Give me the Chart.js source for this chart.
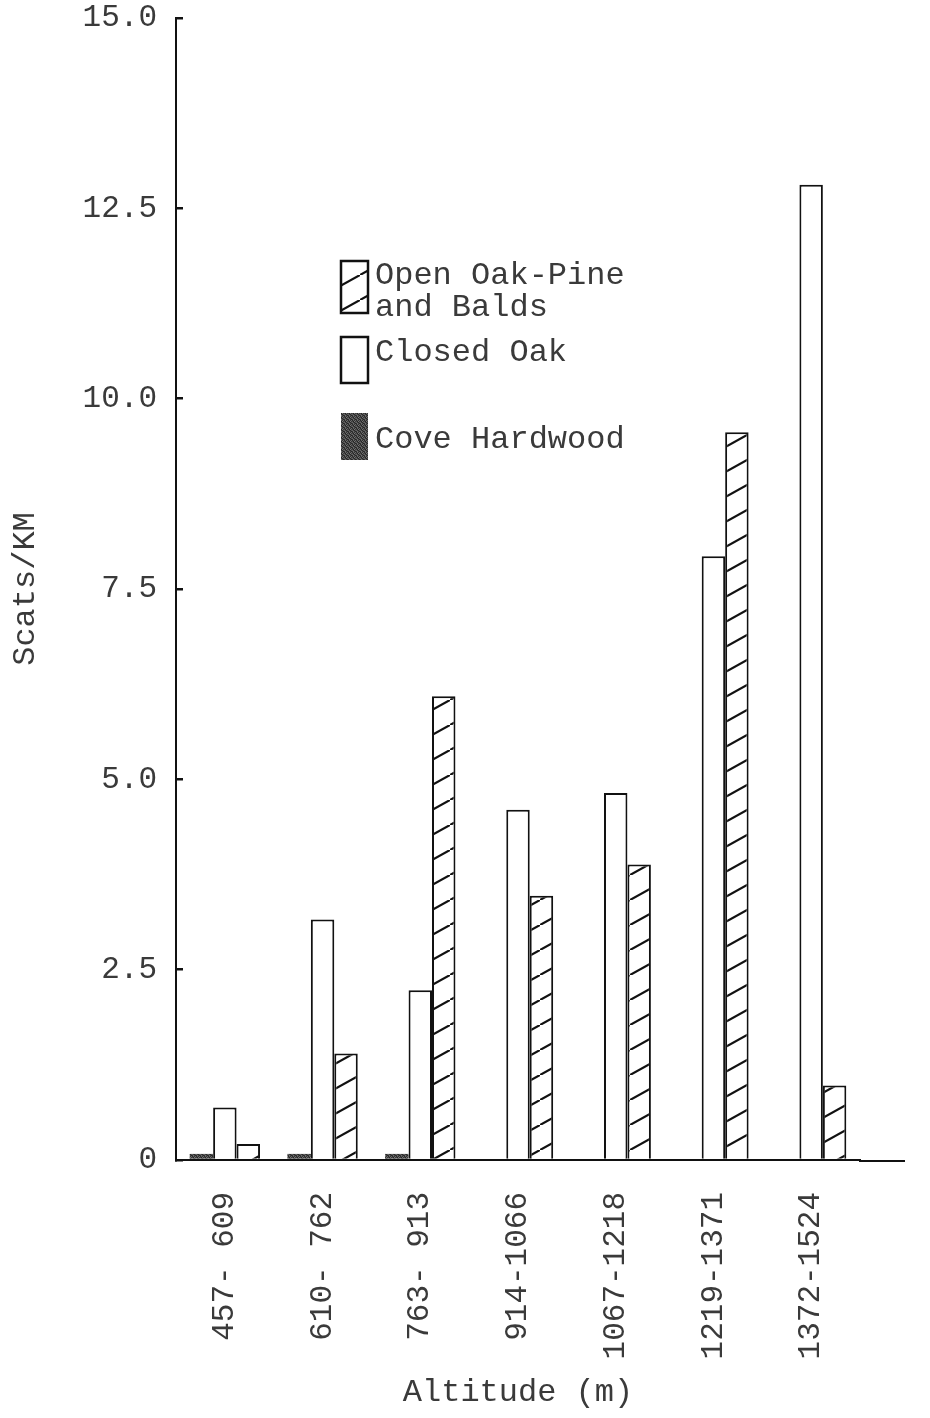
<!DOCTYPE html>
<html><head><meta charset="utf-8">
<script src="https://cdn.jsdelivr.net/npm/chart.js@4.4.0/dist/chart.umd.min.js"></script>
<style>html,body{margin:0;padding:0;background:#fff;}canvas{display:block;}</style>
</head><body>
<canvas id="c" width="930" height="1418"></canvas>
<script>
// ---- data ----
const categories = ['457- 609','610- 762','763- 913','914-1066','1067-1218','1219-1371','1372-1524'];
const coveHardwood = [0.08, 0.08, 0.08, 0, 0, 0, 0];
const closedOak    = [0.69, 3.16, 2.23, 4.60, 4.82, 7.93, 12.81];
const openOakPine  = [0.21, 1.40, 6.09, 3.47, 3.88, 9.56, 0.98];
const seriesNames  = ['Cove Hardwood', 'Closed Oak', 'Open Oak-Pine and Balds'];
const legendLines  = [['Open Oak-Pine', 'and Balds'], ['Closed Oak'], ['Cove Hardwood']];
const yMin = 0, yMax = 15, yStep = 2.5;

const FONT = "'Liberation Mono', 'DejaVu Sans Mono', monospace";
const INK = '#3a3a3a';

function hatchPattern(ctx) {
  const w = 45, h = 25;
  const c = document.createElement('canvas'); c.width = w; c.height = h;
  const x = c.getContext('2d');
  x.fillStyle = '#fff'; x.fillRect(0, 0, w, h);
  x.strokeStyle = '#111'; x.lineWidth = 2.2;
  x.beginPath(); x.moveTo(-w, 2 * h); x.lineTo(2 * w, -h); x.stroke();
  return ctx.createPattern(c, 'repeat');
}
function covePattern(ctx) {
  const s = 4;
  const tile = ['#2b2b2b','#5a5a5a','#333','#6a6a6a',
                '#4a4a4a','#222','#777','#3a3a3a',
                '#666','#3c3c3c','#2a2a2a','#555',
                '#333','#707070','#444','#262626'];
  const c = document.createElement('canvas'); c.width = s; c.height = s;
  const x = c.getContext('2d');
  tile.forEach((col, i) => { x.fillStyle = col; x.fillRect(i % s, Math.floor(i / s), 1, 1); });
  return ctx.createPattern(c, 'repeat');
}

const canvas = document.getElementById('c');
const ctx0 = canvas.getContext('2d');

const legendPlugin = {
  id: 'boxLegend',
  afterDraw(chart, args, opts) {
    const ctx = chart.ctx;
    ctx.save();
    // extend baseline to the right like the reference
    ctx.strokeStyle = '#111'; ctx.lineWidth = 2;
    ctx.beginPath();
    ctx.moveTo(chart.chartArea.right - 1, chart.chartArea.bottom + 1);
    ctx.lineTo(chart.chartArea.right + opts.baselineExtend, chart.chartArea.bottom + 1);
    ctx.stroke();
    // legend
    ctx.font = opts.font; ctx.textBaseline = 'middle'; ctx.textAlign = 'left';
    opts.items.forEach(it => {
      const ds = chart.data.datasets[it.dataset];
      const [bx, by, bw, bh] = it.box;
      ctx.fillStyle = ds.backgroundColor;
      ctx.fillRect(bx, by, bw, bh);
      if (ds.borderWidth) {
        ctx.lineWidth = 2.5; ctx.strokeStyle = '#111';
        ctx.strokeRect(bx, by, bw, bh);
      }
      ctx.fillStyle = opts.color;
      it.lines.forEach((t, i) => ctx.fillText(t, opts.textX, it.textY + i * opts.lineGap));
    });
    ctx.restore();
  }
};

new Chart(canvas, {
  type: 'bar',
  data: {
    labels: categories,
    datasets: [
      { label: seriesNames[0], data: coveHardwood, backgroundColor: covePattern(ctx0), borderWidth: 0 },
      { label: seriesNames[1], data: closedOak, backgroundColor: '#fff', borderColor: '#111', borderWidth: 2 },
      { label: seriesNames[2], data: openOakPine, backgroundColor: hatchPattern(ctx0), borderColor: '#111', borderWidth: 2 }
    ]
  },
  options: {
    responsive: false,
    animation: false,
    devicePixelRatio: 1,
    layout: { padding: { left: 0, right: 70, top: 0, bottom: 0 } },
    datasets: { bar: { categoryPercentage: 0.72, barPercentage: 1.0 } },
    plugins: {
      legend: { display: false },
      tooltip: { enabled: false },
      boxLegend: {
        font: "32px " + FONT,
        color: INK,
        textX: 375,
        lineGap: 32,
        baselineExtend: 45,
        items: [
          { dataset: 2, box: [341, 261, 27, 52], textY: 276, lines: legendLines[0] },
          { dataset: 1, box: [341, 337, 27, 46], textY: 353, lines: legendLines[1] },
          { dataset: 0, box: [341, 413, 27, 47], textY: 440, lines: legendLines[2] }
        ]
      }
    },
    scales: {
      x: {
        grid: { display: false, drawTicks: false },
        border: { display: true, color: '#111', width: 2 },
        ticks: { color: INK, font: { family: FONT, size: 31 }, minRotation: 90, maxRotation: 90, padding: 32, autoSkip: false },
        title: { display: true, text: 'Altitude (m)', color: INK, font: { family: FONT, size: 32 }, padding: { top: 0, bottom: 6 } },
        afterFit: s => { s.height = 258; }
      },
      y: {
        min: yMin, max: yMax,
        grid: { display: true, drawOnChartArea: false, drawTicks: true, tickLength: -7, color: '#111', lineWidth: 2.5 },
        border: { display: true, color: '#111', width: 2 },
        ticks: { stepSize: yStep, color: INK, font: { family: FONT, size: 31 }, padding: 26,
                 callback: v => v === 0 ? '0' : v.toFixed(1) },
        title: { display: true, text: 'Scats/KM', color: INK, font: { family: FONT, size: 32 }, padding: { top: 6, bottom: 0 } },
        afterFit: s => { s.width = 176; s.paddingTop = 18; s.paddingBottom = 0; }
      }
    }
  },
  plugins: [legendPlugin]
});
</script>
</body></html>
